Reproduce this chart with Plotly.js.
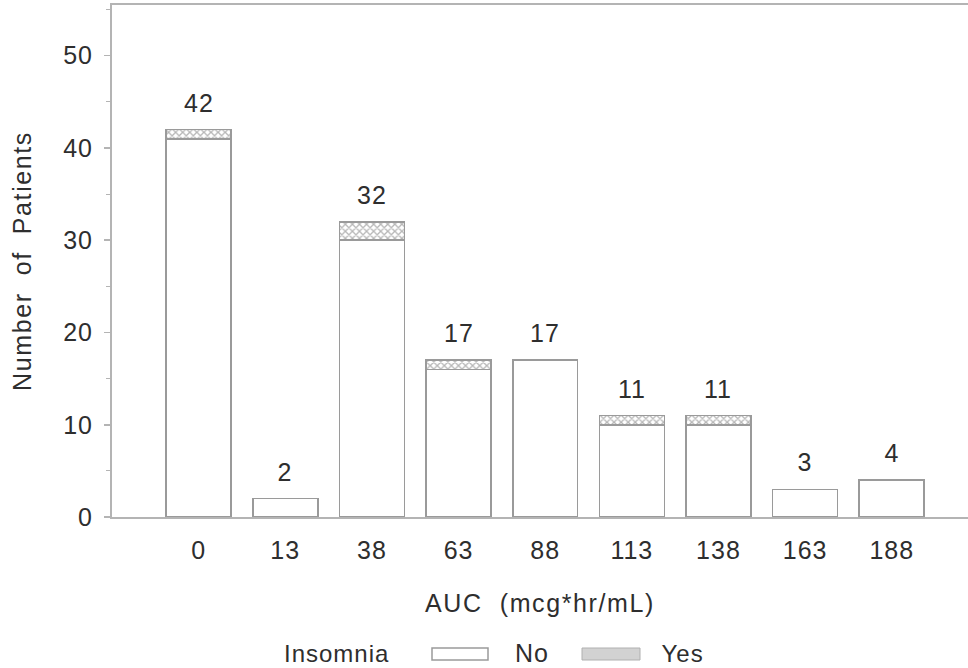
<!DOCTYPE html>
<html>
<head>
<meta charset="utf-8">
<script src="https://cdn.plot.ly/plotly-3.0.1.min.js"></script>
<style>
  html, body { margin: 0; padding: 0; background: #fff; }
  #chart { width: 968px; height: 668px; }
  #chart svg text { letter-spacing: 1px; }
  #chart svg text.xtitle, #chart svg text.ytitle { letter-spacing: 1.6px; }
</style>
</head>
<body>
<div id="chart"></div>
<script>
// ---- data ----
const categories = ["0", "13", "38", "63", "88", "113", "138", "163", "188"];
const insomniaNo = [41, 2, 30, 16, 17, 10, 10, 3, 4];
const insomniaYes = [1, 0, 2, 1, 0, 1, 1, 0, 0];
const legendTitle = "Insomnia";
const seriesNames = ["No", "Yes"];

// ---- layout helpers ----
const W = 968, H = 668;
const M = { l: 112, r: 0, t: 5, b: 151 };
const plotW = W - M.l - M.r, plotH = H - M.t - M.b;
const px = x => (x - M.l) / plotW;          // pixel x -> paper x
const py = y => (H - M.b - y) / plotH;      // pixel y -> paper y

const xIdx = categories.map((c, i) => i);
const totals = insomniaNo.map((v, i) => v + insomniaYes[i]);

const FONT = "Liberation Sans, Arial, sans-serif";
const TXT = "#2e2e2e";
const FS = 25;

const traces = [
  {
    type: "bar", name: seriesNames[0], x: xIdx, y: insomniaNo, width: 0.75,
    marker: { color: "#ffffff", line: { color: "#9a9a9a", width: 1.6 } },
    hoverinfo: "y", showlegend: false
  },
  {
    type: "bar", name: seriesNames[1], x: xIdx, y: insomniaYes, width: 0.75,
    marker: {
      color: "#ffffff",
      line: { color: "#9a9a9a", width: 1.6 },
      pattern: { shape: "x", size: 5, solidity: 0.45, fgcolor: "#6e6e6e", bgcolor: "#ffffff", fillmode: "overlay" }
    },
    hoverinfo: "y", showlegend: false
  }
];

const annotations = xIdx.map(i => ({
  x: i, y: totals[i], xref: "x", yref: "y", text: String(totals[i]),
  showarrow: false, yanchor: "bottom", yshift: 11,
  font: { family: FONT, size: FS, color: TXT }
}));

// manual legend
annotations.push(
  { xref: "paper", yref: "paper", x: px(388), y: py(653), xanchor: "right", yanchor: "middle",
    text: legendTitle, showarrow: false, font: { family: FONT, size: 24, color: TXT } },
  { xref: "paper", yref: "paper", x: px(514), y: py(653), xanchor: "left", yanchor: "middle",
    text: seriesNames[0], showarrow: false, font: { family: FONT, size: FS, color: TXT } },
  { xref: "paper", yref: "paper", x: px(661), y: py(653), xanchor: "left", yanchor: "middle",
    text: seriesNames[1], showarrow: false, font: { family: FONT, size: 24, color: TXT } }
);

const shapes = [
  { type: "rect", xref: "paper", yref: "paper", x0: px(432), x1: px(488), y0: py(660), y1: py(648),
    line: { color: "#9a9a9a", width: 1.5 }, fillcolor: "#ffffff" },
  { type: "rect", xref: "paper", yref: "paper", x0: px(582), x1: px(640), y0: py(660), y1: py(648),
    line: { color: "#b0b0b0", width: 1 }, fillcolor: "#d2d2d2" }
];

const layout = {
  width: W, height: H,
  margin: M,
  paper_bgcolor: "#ffffff", plot_bgcolor: "#ffffff",
  barmode: "stack",
  showlegend: false,
  font: { family: FONT, size: FS, color: TXT },
  xaxis: {
    range: [-1, 8.88], tickvals: xIdx, ticktext: categories,
    showline: true, mirror: true, linecolor: "#b4b4b4", linewidth: 2,
    showgrid: false, zeroline: false, ticks: "", ticklabelstandoff: 10,
    tickfont: { family: FONT, size: FS, color: TXT },
    title: { text: "AUC\u00a0\u00a0(mcg*hr/mL)", font: { family: FONT, size: FS, color: TXT }, standoff: 31 },
    automargin: false
  },
  yaxis: {
    range: [0, 55.5], tickvals: [0, 10, 20, 30, 40, 50],
    showline: true, mirror: false, linecolor: "#b4b4b4", linewidth: 2,
    showgrid: false, zeroline: false,
    ticks: "outside", ticklen: 6, tickwidth: 1.5, tickcolor: "#b4b4b4", ticklabelstandoff: 6,
    minor: { tickvals: [5, 15, 25, 35, 45, 55], ticks: "outside", ticklen: 4, tickcolor: "#b4b4b4", tickwidth: 1.2, showgrid: false },
    tickfont: { family: FONT, size: FS, color: TXT },
    title: { text: "Number\u00a0\u00a0of\u00a0\u00a0Patients", font: { family: FONT, size: FS, color: TXT }, standoff: 26 },
    automargin: false
  },
  annotations: annotations,
  shapes: shapes
};

Plotly.newPlot("chart", traces, layout, { staticPlot: true, displayModeBar: false });
</script>
</body>
</html>
